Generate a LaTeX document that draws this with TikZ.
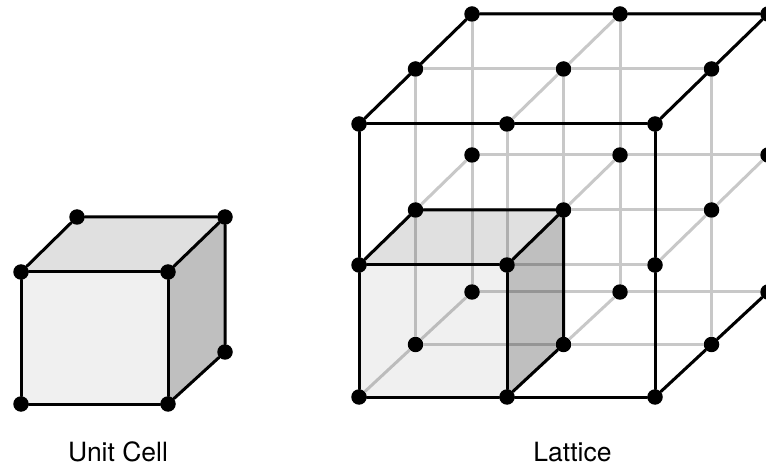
\documentclass[tikz,border=0pt]{standalone}
\usepackage{fontspec}
\setmainfont{TeX Gyre Heros}
\definecolor{gridgrey}{HTML}{C8C8C8}
\tikzset{
  atom/.style={circle, fill=black, inner sep=0pt, minimum size=15.5pt},
  bond/.style={line width=3pt, line cap=round},
  gridbond/.style={line width=3pt, draw=gridgrey},
  frontface/.style={fill=black, fill opacity=0.06},
  topface/.style={fill=black, fill opacity=0.12},
  sideface/.style={fill=black, fill opacity=0.25},
  caption/.style={font=\fontsize{26.5}{30}\selectfont}
}

\begin{document}
\begin{tikzpicture}[x=1pt, y=-1pt]
      \path[use as bounding box, clip] (0,0) rectangle (766,470);
      % lattice
      \foreach \i in {0,1,2}
        \foreach \j/\y/\s in {0/124/55, 1/265/55, 2/397/52.5}
          \foreach \d in {0,1,2}
            \node[atom] (l\i\j\d) at (359+148*\i+56.5*\d, \y-\s*\d) {};
      \foreach \a/\b in {0/1, 1/2}
        \foreach \p in {0,1,2}
          \foreach \q in {0,1,2} {
            \draw[gridbond] (l\a\p\q) -- (l\b\p\q);
            \draw[gridbond] (l\p\a\q) -- (l\p\b\q);
            \draw[gridbond] (l\p\q\a) -- (l\p\q\b);
          }
      \fill[frontface] (l010.center) -- (l110.center) -- (l120.center) -- (l020.center) -- cycle;
      \fill[topface] (l010.center) -- (l110.center) -- (l111.center) -- (l011.center) -- cycle;
      \fill[sideface] (l110.center) -- (l111.center) -- (l121.center) -- (l120.center) -- cycle;
      \draw[bond] (l000) -- (l100) -- (l200) -- (l210) -- (l220) -- (l120) -- (l020) -- (l010) -- (l000);
      \draw[bond] (l000) -- (l001) -- (l002) -- (l102) -- (l202);
      \draw[bond] (l200) -- (l201) -- (l202);
      \draw[bond] (l220) -- (l221) -- (l222);
      \draw[bond] (l010) -- (l110) -- (l120);
      \draw[bond] (l010) -- (l011) -- (l111) -- (l110);
      \draw[bond] (l111) -- (l121) -- (l120);
      % unit cell
      \node[atom] (u00) at (21,272) {};
      \node[atom] (u10) at (168,272) {};
      \node[atom] (u01) at (21,404) {};
      \node[atom] (u11) at (168,404) {};
      \node[atom] (t0) at (77,217) {};
      \node[atom] (t1) at (225,217) {};
      \node[atom] (b1) at (225,352) {};
      \fill[frontface] (u00.center) -- (u10.center) -- (u11.center) -- (u01.center) -- cycle;
      \fill[topface] (u00.center) -- (u10.center) -- (t1.center) -- (t0.center) -- cycle;
      \fill[sideface] (u10.center) -- (t1.center) -- (b1.center) -- (u11.center) -- cycle;
      \draw[bond] (u00) -- (u10) -- (u11) -- (u01) -- (u00);
      \draw[bond] (u00) -- (t0) -- (t1) -- (u10);
      \draw[bond] (t1) -- (b1) -- (u11);
      \node[caption] (unitcell) at (118,452) {Unit Cell};
      \node[caption] (lattice) at (572.5,452) {Lattice};
    \end{tikzpicture}
\end{document}
